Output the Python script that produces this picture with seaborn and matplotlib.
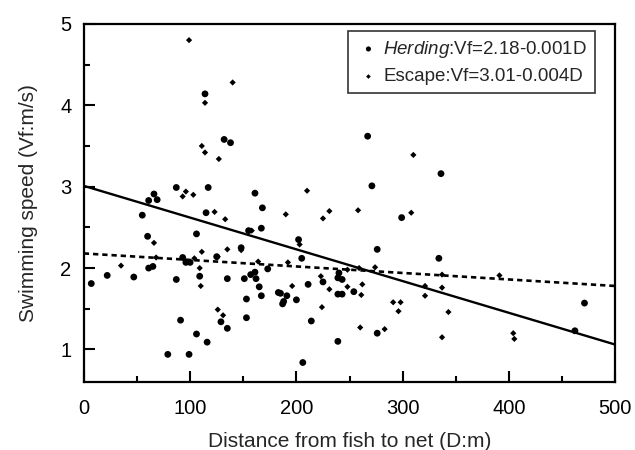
import numpy as np
import pandas as pd
import matplotlib
matplotlib.use("Agg")
import matplotlib.pyplot as plt
import seaborn as sns
from matplotlib.ticker import MultipleLocator

# Herding (circles)
herd_d = [7, 22, 47, 55, 60, 61, 61, 65, 66, 69, 79, 87, 87, 91, 93, 96, 99, 100,
          106, 106, 109, 114, 115, 116, 117, 125, 129, 132, 135, 135, 138, 148, 151,
          153, 153, 155, 157, 161, 161, 162, 165, 167, 167, 168, 173, 183, 185, 187,
          188, 191, 200, 202, 205, 206, 211, 214, 225, 239, 239, 240, 239, 243, 243,
          254, 267, 271, 276, 276, 299, 334, 336, 462, 471]
herd_v = [1.81, 1.91, 1.89, 2.65, 2.39, 2.83, 2.00, 2.02, 2.91, 2.84, 0.94, 2.99, 1.86,
          1.36, 2.13, 2.07, 0.94, 2.07, 2.42, 1.19, 1.90, 4.14, 2.68, 1.09, 2.99, 2.14,
          1.34, 3.58, 1.87, 1.26, 3.54, 2.25, 1.87, 1.62, 1.39, 2.46, 1.92, 2.92, 1.95,
          1.87, 1.77, 2.49, 1.66, 2.74, 1.99, 1.70, 1.69, 1.56, 1.59, 1.66, 1.61, 2.35,
          2.12, 0.84, 1.80, 1.35, 1.83, 1.10, 1.68, 1.94, 1.88, 1.86, 1.68, 1.71, 3.62,
          3.01, 2.23, 1.20, 2.62, 2.12, 3.16, 1.23, 1.57]

# Escape (diamonds)
esc_d = [35, 66, 68, 93, 96, 103, 99, 109, 110, 111, 111, 114, 114, 123, 126, 127, 131,
         133, 135, 140, 148, 158, 164, 190, 192, 196, 203, 210, 223, 224, 225, 231, 231,
         248, 248, 258, 259, 260, 262, 261, 274, 283, 291, 298, 296, 308, 310, 321, 321,
         337, 337, 337, 343, 391, 404, 405, 104, 126]
esc_v = [2.03, 2.31, 2.13, 2.88, 2.94, 2.90, 4.80, 2.00, 1.78, 2.20, 3.50, 3.42, 4.03,
         2.69, 1.49, 3.34, 1.42, 2.60, 2.23, 4.28, 2.22, 2.46, 2.08, 2.66, 2.07, 1.78,
         2.29, 2.95, 1.90, 1.52, 2.61, 2.70, 1.74, 1.98, 1.77, 2.71, 2.00, 1.27, 1.80,
         1.67, 2.01, 1.25, 1.58, 1.58, 1.47, 2.68, 3.39, 1.78, 1.66, 1.92, 1.76, 1.15,
         1.46, 1.91, 1.20, 1.13, 2.12, 2.14]

# Fitted lines (intercept, slope) as drawn
herd_fit = (2.18, -0.0008)
esc_fit = (3.01, -0.0039)
fit_range = [0, 500]

labels = ["$\\it{Herding}$:Vf=2.18-0.001D", "Escape:Vf=3.01-0.004D"]
xticks = [0, 100, 200, 300, 400, 500]
yticks = [1, 2, 3, 4, 5]

sns.set_style("ticks")
plt.rcParams["font.family"] = ["Liberation Sans", "DejaVu Sans"]
plt.rcParams["mathtext.fontset"] = "custom"
plt.rcParams["mathtext.it"] = "Liberation Sans:italic"
plt.rcParams["mathtext.rm"] = "Liberation Sans"

fig = plt.figure(figsize=(6.35, 4.5), dpi=100)
ax = fig.add_axes([0.132, 0.151, 0.837, 0.796])

hdf = pd.DataFrame({"D": herd_d, "V": herd_v})
edf = pd.DataFrame({"D": esc_d, "V": esc_v})

sns.scatterplot(data=hdf, x="D", y="V", ax=ax, marker="o", s=24, color="black",
                edgecolor="none", linewidth=0, label=labels[0], zorder=3)
sns.scatterplot(data=edf, x="D", y="V", ax=ax, marker="D", s=10, color="black",
                edgecolor="none", linewidth=0, label=labels[1], zorder=3)

xs = np.array(fit_range, dtype=float)
ldf_e = pd.DataFrame({"D": xs, "V": esc_fit[0] + esc_fit[1] * xs})
ldf_h = pd.DataFrame({"D": xs, "V": herd_fit[0] + herd_fit[1] * xs})
sns.lineplot(data=ldf_e, x="D", y="V", ax=ax, color="black", lw=1.7, zorder=2)
sns.lineplot(data=ldf_h, x="D", y="V", ax=ax, color="black", lw=1.9,
             linestyle=(0, (2.0, 1.5)), zorder=2)

ax.set_xlim(0, 500)
ax.set_ylim(0.6, 5)
ax.set_xticks(xticks)
ax.set_yticks(yticks)
ax.xaxis.set_minor_locator(MultipleLocator(50))
ax.yaxis.set_minor_locator(MultipleLocator(0.5))
ax.tick_params(which="both", direction="in", top=False, right=False,
               labelsize=14.5, colors="black", width=1.5)
ax.tick_params(which="major", length=8)
ax.tick_params(which="minor", length=4)
ax.tick_params(axis="x", which="major", pad=12)
ax.tick_params(axis="y", which="major", pad=9)
for sp in ax.spines.values():
    sp.set_visible(True)
    sp.set_linewidth(1.6)
    sp.set_color("black")

ax.set_xlabel("Distance from fish to net (D:m)", fontsize=15, labelpad=10)
ax.set_ylabel("Swimming speed (Vf:m/s)", fontsize=15, labelpad=16)

leg = ax.legend(loc="upper right", fontsize=13.5, frameon=True, fancybox=False,
                edgecolor="black", handletextpad=0.15, borderpad=0.42,
                labelspacing=0.45, handlelength=1.3, markerscale=0.75,
                borderaxespad=0, bbox_to_anchor=(0.962, 0.98))
leg.get_frame().set_linewidth(1.2)

fig.savefig("out.png", dpi=100)
